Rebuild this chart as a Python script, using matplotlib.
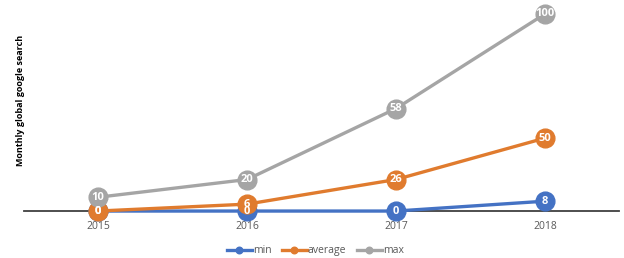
import numpy as np
import matplotlib
matplotlib.use("Agg")
import matplotlib.pyplot as plt

plt.rcParams['font.family'] = ['Open Sans', 'DejaVu Sans']

years = ['2015', '2016', '2017', '2018']
series_names = ['min', 'average', 'max']
# printed data labels
min_labels = [0, 0, 0, 8]
avg_labels = [0, 6, 26, 50]
max_labels = [10, 20, 58, 100]
# plotted heights (top point = 100)
min_height = [0, 0, 0, 5]
avg_height = [0, 3.5, 16, 37]
max_height = [7, 16, 52, 100]
colors = ['#4472C4', '#E07B2E', '#A5A5A5']

fig = plt.figure(figsize=(6.24, 2.58), dpi=100)
ax = fig.add_axes([0.0377, 0.182, 0.955, 0.764])

x = np.arange(len(years))
heights = [min_height, avg_height, max_height]
labels = [min_labels, avg_labels, max_labels]
for name, h, lab, c in zip(series_names, heights, labels, colors):
    ax.plot(x, h, color=c, lw=2.4, marker='o', ms=13.5, label=name, clip_on=False, zorder=3)
    for xi, hi, li in zip(x, h, lab):
        ax.text(xi, hi, str(li), color='white', fontsize=8, fontweight='bold',
                ha='center', va='center', zorder=5)

ax.set_xlim(-0.5, 3.5)
ax.set_ylim(0, 100)
ax.set_xticks(x)
ax.set_xticklabels(years, fontsize=7.5, color='#595959')
ax.set_yticks([])
ax.tick_params(axis='x', length=0, pad=7)
for s in ['top', 'right', 'left']:
    ax.spines[s].set_visible(False)
ax.spines['bottom'].set_color('#404040')
ax.spines['bottom'].set_linewidth(1.3)
ax.spines['bottom'].set_zorder(1)

ax.set_ylabel('Monthly global google search', fontsize=6.5, fontweight='bold')
ax.yaxis.set_label_coords(0.002, 0.563)

handles, names = ax.get_legend_handles_labels()
leg = fig.legend(handles, names, loc='center', bbox_to_anchor=(0.505, 0.028), ncol=3,
                 frameon=False, fontsize=7.5, handlelength=2.4, handletextpad=0.1,
                 columnspacing=1.0, markerscale=0.35)
for t in leg.get_texts():
    t.set_color('#595959')

fig.savefig('out.png', dpi=100)
